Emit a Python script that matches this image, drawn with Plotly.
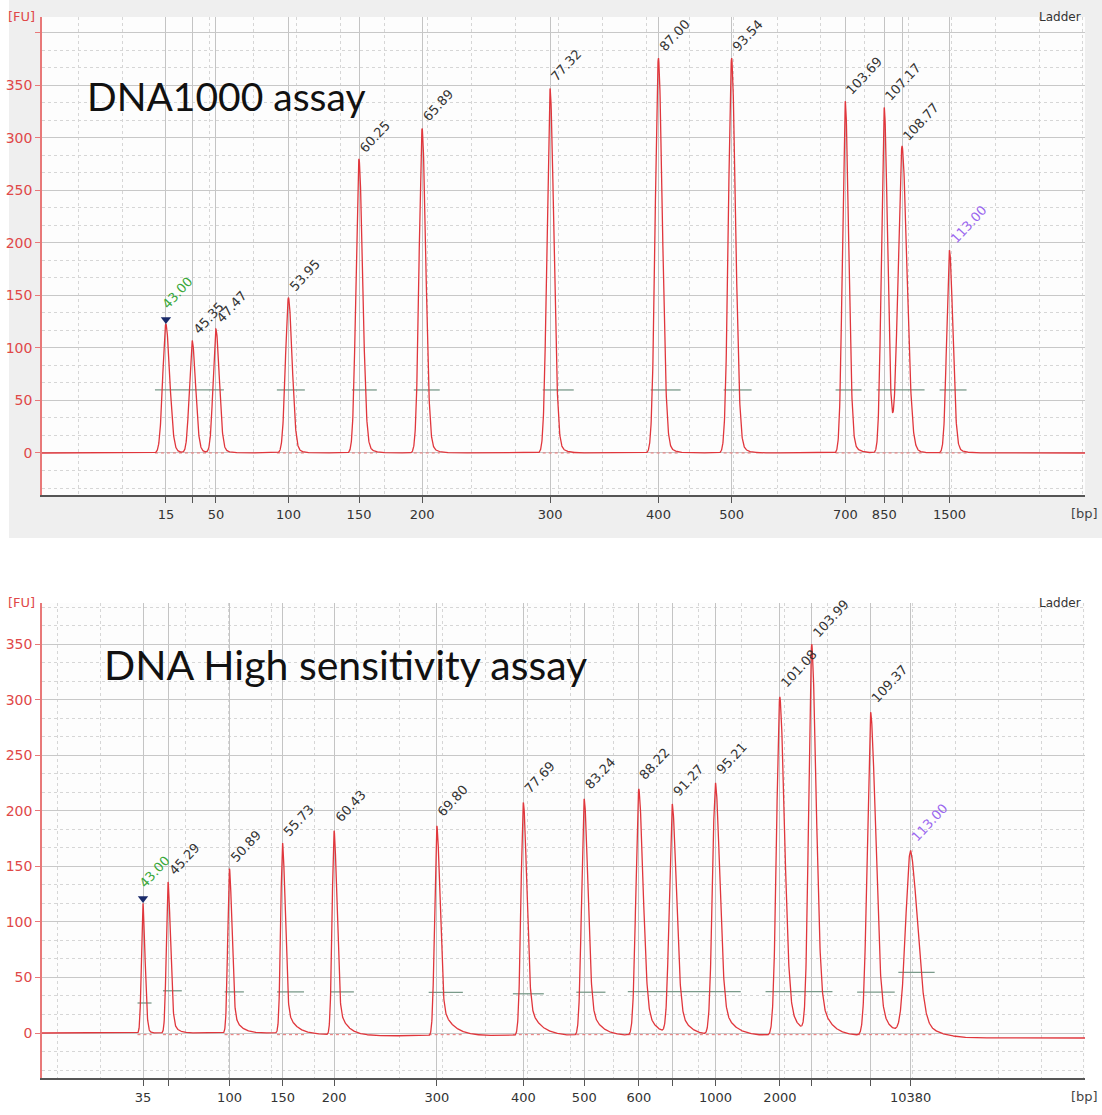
import numpy as np
import plotly.graph_objects as go

W, H = 1102, 1115

# ---------------- DATA ----------------
# Top panel: DNA1000 assay (x = migration time [s], labelled with ladder size [bp])
top_peak_time = [43.00, 45.35, 47.47, 53.95, 60.25, 65.89, 77.32, 87.00, 93.54, 103.69, 107.17, 108.77, 113.00]
top_peak_height = [123, 107, 118, 148, 280, 309, 347, 376, 376, 335, 329, 291, 193]
top_peak_rise = [0.28, 0.25, 0.25, 0.27, 0.27, 0.27, 0.28, 0.29, 0.29, 0.25, 0.25, 0.36, 0.25]
top_peak_tail = [0.5, 0.5, 0.5, 0.5, 0.5, 0.5, 0.5, 0.5, 0.5, 0.5, 0.5, 0.5, 0.5]
top_bp_labels = ["15", "", "50", "100", "150", "200", "300", "400", "500", "700", "850", "", "1500"]
top_seg_start = [42.02, 52.91, 59.61, 65.14, 76.66, 86.30, 92.82, 102.82, 106.48, 112.11]
top_seg_end = [48.18, 55.41, 61.84, 67.46, 79.43, 88.98, 95.32, 105.14, 110.77, 114.52]
top_seg_level = [60, 60, 60, 60, 60, 60, 60, 60, 60, 60]

# Bottom panel: DNA High sensitivity assay
bot_peak_time = [43.00, 45.29, 50.89, 55.73, 60.43, 69.80, 77.69, 83.24, 88.22, 91.27, 95.21, 101.08, 103.99, 109.37, 113.00]
bot_peak_height = [117, 136, 148, 171, 184, 189, 210, 213, 222, 207, 227, 305, 350, 291, 166]
bot_peak_rise = [0.14, 0.16, 0.16, 0.17, 0.18, 0.20, 0.22, 0.24, 0.27, 0.27, 0.28, 0.30, 0.28, 0.32, 0.45]
bot_peak_tail = [0.2, 0.4, 0.6, 0.7, 0.8, 1.0, 1.0, 0.9, 0.9, 0.9, 1.0, 0.9, 0.9, 0.9, 1.2]
bot_bp_labels = ["35", "", "100", "150", "200", "300", "400", "500", "600", "", "1000", "2000", "", "", "10380"]
bot_seg_start = [42.50, 44.82, 50.44, 55.22, 60.05, 69.05, 76.73, 82.51, 87.21, 99.77, 108.12, 111.88]
bot_seg_end = [43.78, 46.54, 52.20, 57.68, 62.23, 72.17, 79.55, 85.17, 97.51, 105.87, 111.55, 115.19]
bot_seg_level = [27, 38, 37, 37, 37, 36.5, 35.3, 36.7, 37.3, 37.3, 36.7, 54.5]
bot_base_time = [33.8, 57.0, 61.5, 112.0, 118.0, 128.9]
bot_base_level = [0, 0, -2.5, -2.5, -4.5, -4.5]

y_ticks = [0, 50, 100, 150, 200, 250, 300, 350, 400]
y_ticktext = ["0", "50", "100", "150", "200", "250", "300", "350", ""]

# ---------------- LAYOUT GEOMETRY (pixels) ----------------
top_box = dict(x0=42, x1=1085, y0=17, y1=495)
bot_box = dict(x0=42, x1=1085, y0=603, y1=1078)
top_xrange = [31.93, 125.1]
top_yrange = [-40, 415]
bot_xrange = [33.79, 128.9]
bot_yrange = [-40.5, 387]

def px(x):
    return x / W

def py(y):
    return 1 - y / H

def curve(t, times, heights, rise, tail, rfac, afrac):
    y = np.zeros_like(t)
    for t0, h, sl, tau in zip(times, heights, rise, tail):
        dt = t - t0
        sr = sl * rfac
        left = np.exp(-0.5 * (dt / sl) ** 2)
        right = (1 - afrac) * np.exp(-0.5 * (dt / sr) ** 2) + afrac * np.exp(-np.clip(dt, 0, None) / tau)
        y += h * np.where(dt < 0, left, right)
    return y

RED = "#e0363c"
fig = go.Figure()

t_top = np.linspace(top_xrange[0], top_xrange[1], 6000)
y_top = curve(t_top, top_peak_time, top_peak_height, top_peak_rise, top_peak_tail, 1.2, 0.10)
t_bot = np.linspace(bot_xrange[0], bot_xrange[1], 6000)
y_bot = curve(t_bot, bot_peak_time, bot_peak_height, bot_peak_rise, bot_peak_tail, 1.4, 0.22)
y_bot = y_bot + np.interp(t_bot, bot_base_time, bot_base_level)

def seg_xy(starts, ends, levels):
    xs, ys = [], []
    for a, b, l in zip(starts, ends, levels):
        xs += [a, b, None]
        ys += [l, l, None]
    return xs, ys

for (starts, ends, levels, base, xa, ya) in [
    (top_seg_start, top_seg_end, top_seg_level, 0, "x", "y"),
    (bot_seg_start, bot_seg_end, bot_seg_level, -1.5, "x2", "y2"),
]:
    sx, sy = seg_xy(starts, ends, levels)
    fig.add_trace(go.Scatter(x=sx, y=sy, mode="lines", xaxis=xa, yaxis=ya,
                             line=dict(color="#7a9a8a", width=1.3), hoverinfo="skip"))
    bx, by = seg_xy(starts, ends, [base] * len(starts))
    fig.add_trace(go.Scatter(x=bx, y=by, mode="lines", xaxis=xa, yaxis=ya,
                             line=dict(color="#e87070", width=1, dash="dot"), hoverinfo="skip"))

fig.add_trace(go.Scatter(x=t_top, y=y_top, mode="lines", xaxis="x", yaxis="y",
                         line=dict(color=RED, width=1.3), hoverinfo="skip"))
fig.add_trace(go.Scatter(x=t_bot, y=y_bot, mode="lines", xaxis="x2", yaxis="y2",
                         line=dict(color=RED, width=1.3), hoverinfo="skip"))

# lower-marker triangles
fig.add_trace(go.Scatter(x=[top_peak_time[0]], y=[top_peak_height[0] + 4], mode="markers", xaxis="x", yaxis="y",
                         marker=dict(symbol="triangle-down", size=9, color="#1a2a6a"), hoverinfo="skip"))
fig.add_trace(go.Scatter(x=[bot_peak_time[0]], y=[bot_peak_height[0] + 4], mode="markers", xaxis="x2", yaxis="y2",
                         marker=dict(symbol="triangle-down", size=9, color="#1a2a6a"), hoverinfo="skip"))

annotations = []
for times, heights, xa, ya in [(top_peak_time, top_peak_height, "x", "y"),
                               (bot_peak_time, bot_peak_height, "x2", "y2")]:
    n = len(times)
    for i, (t0, h) in enumerate(zip(times, heights)):
        col = "#333333"
        yy = h
        xs = -5
        if i == 0:
            col = "#3aa83a"
            yy = h + 8
            xs = -9
        elif i == n - 1:
            col = "#9a66ee"
        annotations.append(dict(x=t0, y=yy, xref=xa, yref=ya, text=f"{t0:.2f}", showarrow=False,
                                textangle=-47, xanchor="left", yanchor="bottom", xshift=xs, yshift=1,
                                font=dict(family="DejaVu Sans", size=13, color=col)))

# Panel texts
for box in (top_box, bot_box):
    annotations.append(dict(x=px(6), y=py(box["y0"] - 1), xref="paper", yref="paper", text="[FU]", showarrow=False,
                            xanchor="left", yanchor="middle", font=dict(family="DejaVu Sans", size=13, color="#e04848")))
    annotations.append(dict(x=px(1083), y=py(box["y0"]), xref="paper", yref="paper", text="Ladder", showarrow=False,
                            xanchor="right", yanchor="middle", font=dict(family="DejaVu Sans", size=12, color="#333333")))
    annotations.append(dict(x=px(1100), y=py(box["y1"] + 18), xref="paper", yref="paper", text="[bp]", showarrow=False,
                            xanchor="right", yanchor="middle", font=dict(family="DejaVu Sans", size=13, color="#444444")))
ann_titles = [
    dict(x=px(85), y=py(96), text="DNA1000 assay", size=39),
    dict(x=px(102), y=py(665), text="DNA High sensitivity assay", size=41),
]
for a in ann_titles:
    annotations.append(dict(x=a["x"], y=a["y"], xref="paper", yref="paper", text=a["text"], showarrow=False,
                            xanchor="left", yanchor="middle", font=dict(family="Lato", size=a["size"], color="#111111")))

shapes = [
    dict(type="rect", xref="paper", yref="paper", x0=px(9), x1=1, y0=py(538), y1=1,
         fillcolor="#efefef", line=dict(width=0), layer="below"),
]
for box in (top_box, bot_box):
    shapes.append(dict(type="rect", xref="paper", yref="paper", x0=px(box["x0"]), x1=px(box["x1"]),
                       y0=py(box["y1"]), y1=py(box["y0"]), fillcolor="#fdfdfd", line=dict(width=0), layer="below"))

def xaxis(box, rng, times, labels, anchor):
    return dict(domain=[px(box["x0"]), px(box["x1"])], range=rng, anchor=anchor,
                tickmode="array", tickvals=times, ticktext=labels,
                showgrid=True, gridcolor="#c4c4c4", gridwidth=1,
                showline=True, linecolor="#555555", linewidth=2,
                ticks="outside", ticklen=6, tickcolor="#555555",
                tickfont=dict(family="DejaVu Sans", size=13, color="#333333"),
                minor=dict(dtick=3.9, tick0=43.0, showgrid=True, gridcolor="#d6d6d6", griddash="dot", ticks=""),
                zeroline=False, fixedrange=True)

def yaxis(box, rng, anchor):
    return dict(domain=[py(box["y1"]), py(box["y0"])], range=rng, anchor=anchor,
                tickmode="array", tickvals=y_ticks, ticktext=y_ticktext,
                showgrid=True, gridcolor="#c8c8c8", gridwidth=1,
                showline=True, linecolor="#e87878", linewidth=1.5,
                ticks="outside", ticklen=5, tickcolor="#e87878",
                tickfont=dict(family="DejaVu Sans", size=14, color="#e04848"),
                minor=dict(dtick=50 / 3, tick0=0, showgrid=True, gridcolor="#d6d6d6", griddash="dot", ticks=""),
                zeroline=False, fixedrange=True)

fig.update_layout(
    width=W, height=H, margin=dict(l=0, r=0, t=0, b=0),
    paper_bgcolor="white", plot_bgcolor="rgba(0,0,0,0)",
    showlegend=False,
    xaxis=xaxis(top_box, top_xrange, top_peak_time, top_bp_labels, "y"),
    yaxis=yaxis(top_box, top_yrange, "x"),
    xaxis2=xaxis(bot_box, bot_xrange, bot_peak_time, bot_bp_labels, "y2"),
    yaxis2=yaxis(bot_box, bot_yrange, "x2"),
    annotations=annotations, shapes=shapes,
)

fig.write_html("out.html", config={"displayModeBar": False},
               post_script="document.body.style.margin='0px';document.body.style.overflow='hidden';")
